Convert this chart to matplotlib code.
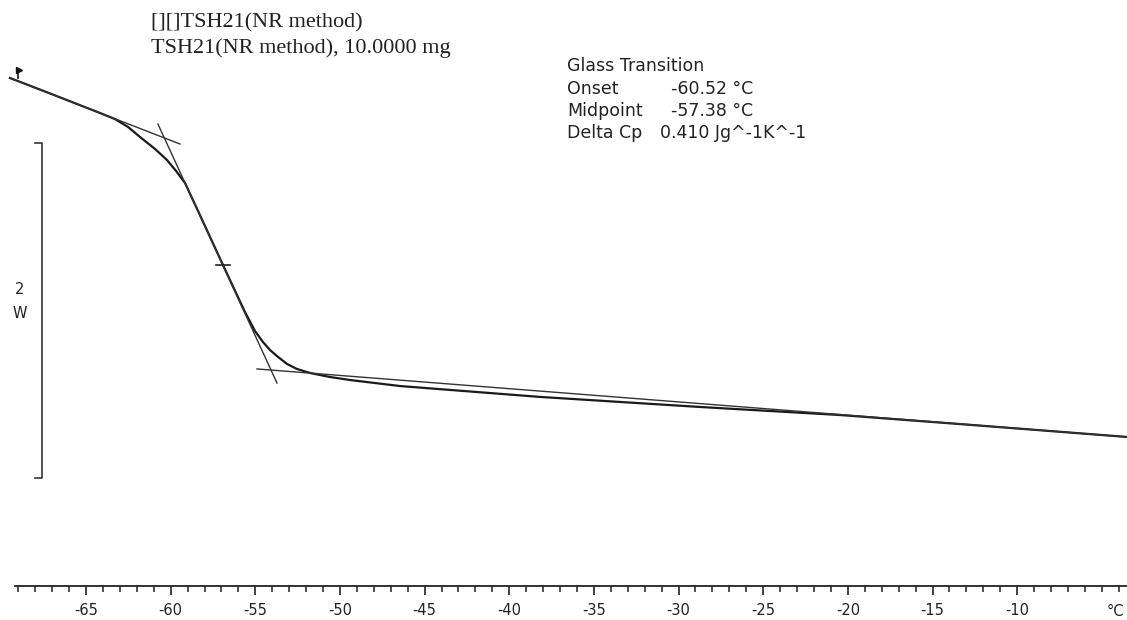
import numpy as np
import matplotlib
matplotlib.use("Agg")
import matplotlib.pyplot as plt
from matplotlib.ticker import FixedLocator

plt.rcParams['axes.unicode_minus'] = False

# DSC curve: temperature (degC) and heat flow (W, arbitrary zero)
temp = [-69.49, -67.13, -64.17, -63.29, -62.52, -61.81, -60.92, -60.22, -59.68,
        -59.15, -58.27, -56.91, -55.61, -55.02, -54.55, -54.13, -53.72, -53.13,
        -52.54, -51.77, -50.59, -49.41, -46.45, -38.18, -28.73, -20.46, -13.38, -3.51]
heat_flow = [2.388, 2.296, 2.179, 2.143, 2.096, 2.036, 1.964, 1.899, 1.833,
             1.761, 1.570, 1.272, 0.991, 0.878, 0.812, 0.764, 0.728, 0.681,
             0.651, 0.627, 0.603, 0.585, 0.549, 0.484, 0.424, 0.376, 0.322, 0.245]

# tangent lines used for the glass transition evaluation
upper_tan_t = [-69.49, -59.45]
upper_tan_hf = [2.388, 1.994]
infl_tan_t = [-60.75, -53.72]
infl_tan_hf = [2.113, 0.567]
lower_tan_t = [-54.90, -3.51]
lower_tan_hf = [0.651, 0.245]

midpoint_t, midpoint_hf = -56.91, 1.272
start_t, start_hf = -69.02, 2.418

scale_bar_t = -67.60
scale_bar_hf = [0.0, 2.0]

major_ticks = list(range(-65, -9, 5))
minor_ticks = list(range(-69, -3, 1))

W, H = 1127, 620
fig = plt.figure(figsize=(W / 100, H / 100), dpi=100)
ax_bottom = (H - 586) / H
ax = fig.add_axes([0, ax_bottom, 1, 1 - ax_bottom])

# -65 degC at x=86 px, 16.93 px per degC ; 167.5 px per W
ax.set_xlim(-65 - 86 / 16.93, -65 + (W - 86) / 16.93)
ax.set_ylim((478 - 586) / 167.5, 478 / 167.5)

ax.plot(temp, heat_flow, color="#1a1a1a", lw=1.6, solid_joinstyle="round")
ax.plot(upper_tan_t, upper_tan_hf, color="#333333", lw=1.0)
ax.plot(infl_tan_t, infl_tan_hf, color="#333333", lw=1.0)
ax.plot(lower_tan_t, lower_tan_hf, color="#333333", lw=1.0)

# midpoint marker and start marker
ax.plot([midpoint_t - 0.4, midpoint_t + 0.4], [midpoint_hf, midpoint_hf], color="#222222", lw=1.2)
ax.plot([start_t, start_t], [start_hf - 0.03, start_hf + 0.02], color="#111111", lw=1.2)
ax.plot(start_t + 0.08, start_hf + 0.015, marker=">", ms=4, color="#111111")

# scale bar (2 W)
ax.plot([scale_bar_t - 0.4, scale_bar_t, scale_bar_t, scale_bar_t - 0.4],
        [scale_bar_hf[1], scale_bar_hf[1], scale_bar_hf[0], scale_bar_hf[0]],
        color="#333333", lw=1.2)
fig.text(20 / W, 1 - 290 / H, "2", ha="center", va="center", fontsize=10.5,
         family="DejaVu Sans", color="#222222")
fig.text(20 / W, 1 - 313 / H, "W", ha="center", va="center", fontsize=10.5,
         family="DejaVu Sans", color="#222222")

# axis styling
for s in ["top", "left", "right"]:
    ax.spines[s].set_visible(False)
ax.spines["bottom"].set_bounds(-65 - 71 / 16.93, -65 + (W - 86) / 16.93)
ax.spines["bottom"].set_linewidth(1.3)
ax.spines["bottom"].set_color("#222222")
ax.set_yticks([])
ax.xaxis.set_major_locator(FixedLocator(major_ticks))
ax.xaxis.set_minor_locator(FixedLocator(minor_ticks))
ax.tick_params(axis="x", which="major", direction="out", length=6.5, width=1.2,
               pad=6, labelsize=10.5, colors="#222222")
ax.tick_params(axis="x", which="minor", direction="out", length=4, width=1.1,
               colors="#222222")
for lab in ax.get_xticklabels():
    lab.set_family("DejaVu Sans")
fig.text(1115 / W, 1 - 611 / H, "°C", ha="center", va="center", fontsize=10.5,
         family="DejaVu Sans", color="#222222")

# header text
fig.text(151 / W, 1 - 23 / H, "[][]TSH21(NR method)", ha="left", va="center",
         fontsize=16, family="Liberation Serif", color="#222222")
fig.text(151 / W, 1 - 48 / H, "TSH21(NR method), 10.0000 mg", ha="left", va="center",
         fontsize=16, family="Liberation Serif", color="#222222")

# glass transition results
labels = ["Onset", "Midpoint", "Delta Cp"]
values = ["-60.52 °C", "-57.38 °C", "0.410 Jg^-1K^-1"]
value_x = [671, 671, 660]
fig.text(567 / W, 1 - 66 / H, "Glass Transition", ha="left", va="center",
         fontsize=12.5, family="DejaVu Sans", color="#222222")
for i, (l, v) in enumerate(zip(labels, values)):
    y = 1 - (89 + 22 * i) / H
    fig.text(567 / W, y, l, ha="left", va="center", fontsize=12.5,
             family="DejaVu Sans", color="#222222")
    fig.text(value_x[i] / W, y, v, ha="left", va="center", fontsize=12.5,
             family="DejaVu Sans", color="#222222")

fig.savefig("out.png", dpi=100)
